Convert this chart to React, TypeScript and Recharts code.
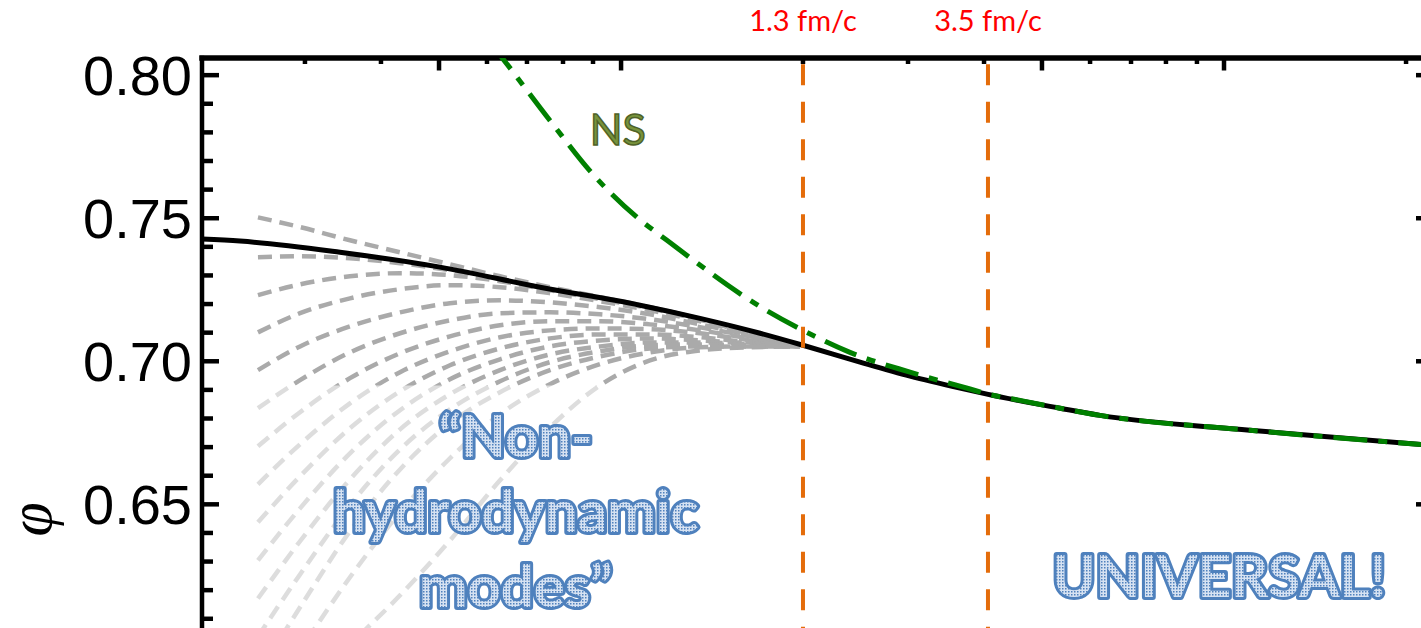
import React from 'react';
import { LineChart, Line, XAxis, YAxis, ReferenceLine, ReferenceArea, ReferenceDot } from 'recharts';

// ---------- axes ----------
const yTicks = [0.59, 0.6, 0.61, 0.62, 0.63, 0.64, 0.65, 0.66, 0.67, 0.68, 0.69, 0.7, 0.71, 0.72, 0.73, 0.74, 0.75, 0.76, 0.77, 0.78, 0.79, 0.8];
const yMajorTicks = [0.6, 0.65, 0.7, 0.75, 0.8];
const topMajorTicks = [19.27, 34.07, 68.29, 83.09];
const topMinorTicks = [8.37, 14.55, 23.17, 26.42, 29.35, 31.79, 48.86, 57.4, 63.58, 72.2, 75.53, 78.37, 80.89, 97.89];
const topTicks = [...topMajorTicks, ...topMinorTicks].sort((a, b) => a - b);

// ---------- markers ----------
const timeMarksX = [48.86, 63.9];
const timeLabels = ['1.3 fm/c', '3.5 fm/c'];

// ---------- attractor (black) ----------
const attractorX = [0, 3.09, 11.22, 19.35, 27.48, 35.61, 40.49, 45.37, 48.86, 53.5, 57.56, 61.63, 63.82, 69.76, 73.01, 85.2, 100];
const attractorPhi = [0.7427, 0.742, 0.7381, 0.7329, 0.7259, 0.7196, 0.715, 0.7098, 0.7056, 0.6997, 0.6948, 0.6906, 0.6885, 0.6836, 0.6811, 0.6759, 0.6706];

// ---------- Navier-Stokes (green) ----------
const nsX = [23.4, 24.23, 28.46, 31.71, 35.37, 37.8, 45.61, 48.86, 52.68, 57.56, 62.44, 63.82, 65.93, 69.76, 73.01, 85.2, 100];
const nsPhi = [0.8115, 0.807, 0.7832, 0.7657, 0.7503, 0.7423, 0.7185, 0.7108, 0.7031, 0.6962, 0.6903, 0.6886, 0.6868, 0.6836, 0.6811, 0.6759, 0.6706];

// ---------- non-hydrodynamic solutions (grey) ----------
const grayX = [4.55, 7.97, 12.03, 16.1, 20.16, 24.23, 28.29, 32.36, 36.42, 40.49, 44.55, 48.62];
const gray1 = [0.7503, 0.7469, 0.7423, 0.7381, 0.7339, 0.7297, 0.7259, 0.7224, 0.7189, 0.7148, 0.7099, 0.7058];
const gray2 = [0.7364, 0.7367, 0.736, 0.7343, 0.7318, 0.7287, 0.7252, 0.722, 0.7189, 0.7148, 0.7099, 0.7058];
const gray3 = [0.7231, 0.7269, 0.7297, 0.7308, 0.7301, 0.728, 0.7248, 0.7217, 0.7185, 0.7145, 0.7099, 0.7058];
const gray4 = [0.7101, 0.7168, 0.722, 0.7252, 0.7266, 0.7259, 0.7238, 0.721, 0.7178, 0.714, 0.7096, 0.7058];
const gray5 = [0.6969, 0.7052, 0.7122, 0.7171, 0.7203, 0.7213, 0.7206, 0.7189, 0.7164, 0.7129, 0.7092, 0.7058];
const gray6 = [0.6836, 0.6934, 0.7031, 0.7098, 0.7143, 0.7168, 0.7171, 0.7164, 0.7147, 0.7119, 0.7087, 0.7056];
const gray7 = [0.6703, 0.6822, 0.6941, 0.7028, 0.7087, 0.7126, 0.714, 0.714, 0.7129, 0.7108, 0.708, 0.7054];
const gray8 = [0.657, 0.671, 0.6853, 0.6962, 0.7035, 0.7084, 0.7108, 0.7115, 0.7112, 0.7098, 0.7073, 0.7052];
const gray9 = [0.6437, 0.6598, 0.6766, 0.6895, 0.6986, 0.7045, 0.708, 0.7094, 0.7094, 0.7084, 0.7066, 0.7052];
const gray10 = [0.6304, 0.6486, 0.6678, 0.6829, 0.6937, 0.7007, 0.7052, 0.7073, 0.708, 0.7073, 0.7063, 0.7052];
const gray11 = [0.6171, 0.6371, 0.6587, 0.6762, 0.6885, 0.6969, 0.7024, 0.7052, 0.7066, 0.7066, 0.7059, 0.7052];
const gray12 = [0.6038, 0.6255, 0.6497, 0.6692, 0.6832, 0.693, 0.6997, 0.7035, 0.7056, 0.7059, 0.7056, 0.7052];
const gray13 = [0.5906, 0.614, 0.6406, 0.6622, 0.6783, 0.6892, 0.6969, 0.7017, 0.7045, 0.7052, 0.7052, 0.7052];
const gray14 = [0.5773, 0.599, 0.6245, 0.6472, 0.6661, 0.6815, 0.692, 0.699, 0.7031, 0.7049, 0.7052, 0.7052];
const gray15 = [0.564, 0.5815, 0.6007, 0.6182, 0.6374, 0.6584, 0.6769, 0.6916, 0.7003, 0.7038, 0.7049, 0.7052];
const grayCurves = [gray1, gray2, gray3, gray4, gray5, gray6, gray7, gray8, gray9, gray10, gray11, gray12, gray13, gray14, gray15];

// ---------- annotations ----------
const nsLabel = 'NS';
const nonHydroLines = ['\u201CNon-', 'hydrodynamic', 'modes\u201D'];
const universalLabel = 'UNIVERSAL!';
const axisLabel = '\u03C6';

const toPoints = (xs: number[], ys: number[]) => xs.map((x, i) => ({ x, y: ys[i] }));

const attractorData = toPoints(attractorX, attractorPhi);
const nsData = toPoints(nsX, nsPhi);
const grayData = grayCurves.map((c) => toPoints(grayX, c));

const LeftTick = (props: any) => {
  const { x, y, payload } = props;
  const v = payload.value;
  const major = yMajorTicks.some((m) => Math.abs(m - v) < 1e-6);
  return (
    <g>
      <line x1={x} x2={x + (major ? 17 : 11)} y1={y} y2={y} stroke="#000" strokeWidth={4.5} />
      {major && (
        <text x={x - 10} y={y + 20} textAnchor="end" fontFamily="Liberation Sans, Arial, sans-serif" fontSize={56} fill="#000">
          {v.toFixed(2)}
        </text>
      )}
    </g>
  );
};

const RightTick = (props: any) => {
  const { x, y } = props;
  return <line x1={x - 16} x2={x} y1={y} y2={y} stroke="#000" strokeWidth={4.5} />;
};

const TopTick = (props: any) => {
  const { x, y, payload } = props;
  const major = topMajorTicks.some((m) => Math.abs(m - payload.value) < 1e-6);
  return <line x1={x} x2={x} y1={y} y2={y + (major ? 12.5 : 6)} stroke="#000" strokeWidth={4.5} />;
};

const blueText = {
  fontFamily: 'Lato, sans-serif',
  fontWeight: 700,
  fontSize: 58,
  fill: 'url(#wordartDots)',
  stroke: '#4F81BD',
  strokeWidth: 6,
  strokeLinejoin: 'round',
  paintOrder: 'stroke',
} as any;

const DotPattern = () => (
  <defs>
    <pattern id="wordartDots" width="3" height="3" patternUnits="userSpaceOnUse">
      <rect width="3" height="3" fill="#D6E2F2" />
      <rect width="1.5" height="1.5" fill="#4F81BD" />
    </pattern>
  </defs>
);

const NonHydroLabel = (props: any) => {
  const { viewBox } = props;
  const cx = viewBox.x + viewBox.width / 2;
  const cy = viewBox.y + viewBox.height / 2;
  return (
    <g>
      <DotPattern />
      <text x={cx} y={cy} textAnchor="middle" style={blueText}>
        {nonHydroLines.map((l, i) => (
          <tspan key={i} x={cx} dy={i === 0 ? 0 : 75}>
            {l}
          </tspan>
        ))}
      </text>
    </g>
  );
};

const UniversalLabel = (props: any) => {
  const { viewBox } = props;
  const cx = viewBox.x + viewBox.width / 2;
  const cy = viewBox.y + viewBox.height / 2;
  return (
    <g>
      <DotPattern />
      <text x={cx} y={cy} textAnchor="middle" style={blueText}>
        {universalLabel}
      </text>
    </g>
  );
};

const NSLabel = (props: any) => {
  const { viewBox } = props;
  const cx = viewBox.x + viewBox.width / 2;
  const cy = viewBox.y + viewBox.height / 2;
  return (
    <text x={cx} y={cy} textAnchor="middle" fontFamily="Lato, sans-serif" fontSize={43} fill="#77933C" stroke="#4F6228" strokeWidth={1.5}>
      {nsLabel}
    </text>
  );
};

const PhiLabel = (props: any) => {
  const { viewBox } = props;
  const cx = viewBox.x + viewBox.width / 2 - 172;
  const cy = viewBox.y + viewBox.height / 2 + 3;
  return (
    <text
      x={cx}
      y={cy}
      textAnchor="middle"
      dominantBaseline="central"
      transform={`rotate(-90, ${cx}, ${cy})`}
      fontFamily="Liberation Serif, serif"
      fontStyle="italic"
      fontSize={62}
      fill="#000"
    >
      {axisLabel}
    </text>
  );
};

const makeTimeLabel = (text: string) => (props: any) => {
  const { viewBox } = props;
  const cx = viewBox.x + (viewBox.width || 0) / 2;
  return (
    <text x={cx} y={viewBox.y - 27} textAnchor="middle" fontFamily="Lato, sans-serif" fontSize={29} fill="#FF0000">
      {text}
    </text>
  );
};

export default function App() {
  return (
    <div style={{ position: 'absolute', left: 0, top: 0, width: 1421, height: 628, overflow: 'hidden', background: '#fff' }}>
      <LineChart width={1460} height={700} margin={{ top: 28, right: 8, left: 82, bottom: 24 }}>
        <XAxis
          type="number"
          dataKey="x"
          orientation="top"
          domain={[0, 100]}
          ticks={topTicks}
          interval={0}
          allowDataOverflow
          height={30}
          axisLine={{ stroke: '#000', strokeWidth: 5.5, strokeLinecap: 'square' }}
          tickLine={false}
          tickSize={0}
          tickMargin={0}
          tick={<TopTick />}
        />
        <YAxis
          type="number"
          domain={[0.59, 0.806]}
          ticks={yTicks}
          interval={0}
          allowDataOverflow
          width={120}
          axisLine={{ stroke: '#000', strokeWidth: 4.5, strokeLinecap: 'square' }}
          tickLine={false}
          tickSize={0}
          tickMargin={0}
          tick={<LeftTick />}
        />
        <YAxis
          yAxisId="right"
          orientation="right"
          type="number"
          domain={[0.59, 0.806]}
          ticks={yMajorTicks}
          interval={0}
          allowDataOverflow
          width={20}
          axisLine={{ stroke: '#000', strokeWidth: 5 }}
          tickLine={false}
          tickSize={0}
          tickMargin={0}
          tick={<RightTick />}
        />
        {grayData.map((d, i) => (
          <Line
            key={'g' + i}
            data={d}
            dataKey="y"
            type="monotone"
            stroke="#AAAAAA"
            strokeWidth={4.5}
            strokeDasharray="14 8"
            dot={false}
            activeDot={false}
            isAnimationActive={false}
            zIndex={400}
          />
        ))}
        <ReferenceArea x1={0} x2={45.4} y1={0.59} y2={0.6915} fill="#FFFFFF" fillOpacity={0.6} stroke="none" zIndex={450} />
        <Line
          data={attractorData}
          dataKey="y"
          type="monotone"
          stroke="#000"
          strokeWidth={5}
          dot={false}
          activeDot={false}
          isAnimationActive={false}
          zIndex={500}
        />
        <Line
          data={nsData}
          dataKey="y"
          type="monotone"
          stroke="#008000"
          strokeWidth={5}
          strokeDasharray="34 11 9 11"
          dot={false}
          activeDot={false}
          isAnimationActive={false}
          zIndex={550}
        />
        {timeMarksX.map((m, i) => (
          <ReferenceLine
            key={'t' + i}
            segment={[{ x: m, y: 0.806 }, { x: m, y: 0.59 }]}
            stroke="#E46C0A"
            strokeWidth={4}
            strokeDasharray="21 16.5"
            strokeDashoffset={31.3}
            label={makeTimeLabel(timeLabels[i])}
            ifOverflow="visible"
            zIndex={600}
          />
        ))}
        <ReferenceDot x={33.8} y={0.7755} r={1} fill="none" stroke="none" label={<NSLabel />} zIndex={700} />
        <ReferenceDot x={25.5} y={0.6664} r={1} fill="none" stroke="none" label={<NonHydroLabel />} zIndex={700} />
        <ReferenceDot x={82.7} y={0.6175} r={1} fill="none" stroke="none" label={<UniversalLabel />} zIndex={700} />
        <ReferenceDot x={0} y={0.6458} r={1} fill="none" stroke="none" label={<PhiLabel />} ifOverflow="visible" zIndex={700} />
      </LineChart>
    </div>
  );
}
